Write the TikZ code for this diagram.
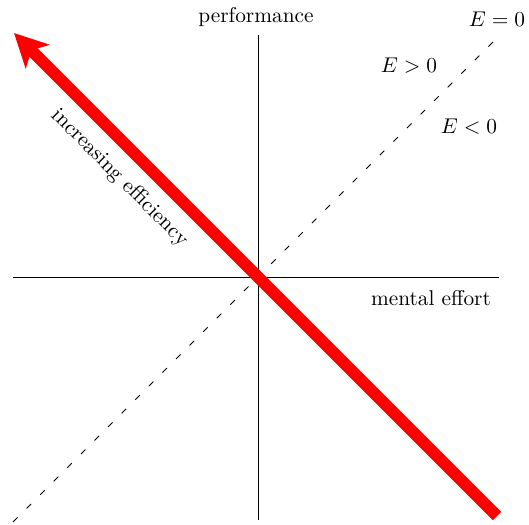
\documentclass[tikz,border=0pt]{standalone}
\usetikzlibrary{arrows.meta}
\begin{document}
\begin{tikzpicture}[x=0.01646cm, y=-0.01646cm,
  axis/.style={line width=0.4pt},
  zeroline/.style={line width=0.4pt, dash pattern=on 3pt off 6pt},
  effarrow/.style={red, line width=5.6pt, -{Stealth[length=15.5pt,width=15.5pt,inset=4pt]}},
  lbl/.style={inner sep=0pt}]
\useasboundingbox (0,0) rectangle (529,524);
\coordinate (xl) at (13,277);
\coordinate (xr) at (499,277);
\coordinate (yb) at (258,520);
\coordinate (yt) at (258,35);
\coordinate (dl) at (13,522);
\coordinate (dr) at (497,38);
\coordinate (rs) at (497,516);
\coordinate (re) at (14,33);
\draw[axis] (xl) -- (xr);
\draw[axis] (yb) -- (yt);
\draw[zeroline] (dl) -- (dr);
\draw[effarrow] (rs) -- (re);
\node[lbl] (perf) at (256,17) {performance};
\node[lbl] (ez) at (497,19) {$E=0$};
\node[lbl] (ep) at (409,66) {$E>0$};
\node[lbl] (en) at (469,127) {$E<0$};
\node[lbl] (me) at (431,298) {mental effort};
\node[lbl, rotate=-45] (ie) at (120,178) {increasing efficiency};
\end{tikzpicture}
\end{document}
